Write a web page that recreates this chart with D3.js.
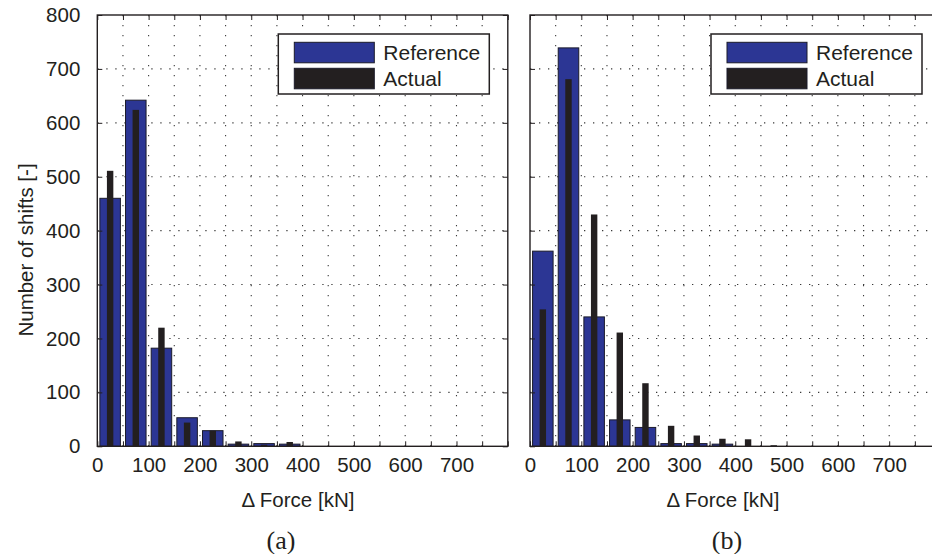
<!DOCTYPE html>
<html>
<head>
<meta charset="utf-8">
<script src="https://cdn.jsdelivr.net/npm/d3@7"></script>
<style>
  html, body { margin: 0; padding: 0; background: #fff; }
  svg { display: block; }
  text { font-family: "Liberation Sans", Arial, Helvetica, sans-serif; fill: #231f20; }
</style>
</head>
<body>
<svg id="chart" width="932" height="554"></svg>
<script>
// Histogram bins of force change (kN), 50 kN wide
const binCenters = [25, 75, 125, 175, 225, 275, 325, 375, 425, 475, 525, 575, 625, 675, 725, 775];

// Panel (a)
const leftReference = [460, 642, 182, 53, 29, 4, 5, 4, 0, 0, 0, 0, 0, 0, 0, 0];
const leftActual    = [511, 624, 220, 44, 29, 9, 3, 8, 0, 0, 0, 0, 0, 0, 0, 0];

// Panel (b)
const rightReference = [362, 739, 240, 49, 35, 5, 5, 4, 0, 0, 0, 0, 0, 0, 0, 0];
const rightActual    = [254, 681, 430, 211, 117, 38, 20, 14, 13, 2, 0, 0, 0, 0, 0, 0];

const xTicks = [0, 50, 100, 150, 200, 250, 300, 350, 400, 450, 500, 550, 600, 650, 700, 750, 800];
const xTickLabels = [0, 100, 200, 300, 400, 500, 600, 700];
const yTicks = [0, 100, 200, 300, 400, 500, 600, 700, 800];
const seriesNames = ["Reference", "Actual"];
const seriesColors = ["#2c3694", "#231f20"];

const svg = d3.select("#chart");
const plotTop = 15, plotBottom = 446.3, plotW = 410.5;
const binWidth = 50;

const panels = [
  { x0: 97.3, ref: leftReference,  act: leftActual,  tag: "(a)", tagX: 281, titleX: 298, yLabels: true },
  { x0: 530,  ref: rightReference, act: rightActual, tag: "(b)", tagX: 727, titleX: 723, yLabels: false }
];

panels.forEach(p => {
  const x = d3.scaleLinear().domain([0, 800]).range([p.x0, p.x0 + plotW]);
  const y = d3.scaleLinear().domain([0, 800]).range([plotBottom, plotTop]);
  const g = svg.append("g");

  // dotted grid
  const grid = g.append("g").attr("stroke", "#3a3a3a").attr("stroke-width", 1.1).attr("fill", "none");
  grid.selectAll("line.v").data(xTicks.filter(d => d > 0 && d < 800)).join("line")
    .attr("class", "v")
    .attr("x1", d => x(d)).attr("x2", d => x(d))
    .attr("y1", plotBottom).attr("y2", plotTop)
    .attr("stroke-dasharray", "1.3,8.7");
  grid.selectAll("line.h").data(yTicks.filter(d => d > 0 && d < 800)).join("line")
    .attr("class", "h")
    .attr("y1", d => y(d)).attr("y2", d => y(d))
    .attr("x1", x(0)).attr("x2", x(800))
    .attr("stroke-dasharray", "1.3,7.7");

  // Reference bars (wide) then Actual bars (narrow) on top
  const wideW = x(binWidth * 0.8) - x(0);
  const narrowW = x(binWidth * 0.25) - x(0);
  g.append("g").selectAll("rect").data(binCenters.map((c, i) => ({ c, v: p.ref[i] })).filter(d => d.v > 0)).join("rect")
    .attr("x", d => x(d.c) - wideW / 2)
    .attr("width", wideW)
    .attr("y", d => y(d.v))
    .attr("height", d => y(0) - y(d.v))
    .attr("fill", seriesColors[0])
    .attr("stroke", "#1b1b2a")
    .attr("stroke-width", 1);
  g.append("g").selectAll("rect").data(binCenters.map((c, i) => ({ c, v: p.act[i] })).filter(d => d.v > 0)).join("rect")
    .attr("x", d => x(d.c) - narrowW / 2)
    .attr("width", narrowW)
    .attr("y", d => y(d.v))
    .attr("height", d => y(0) - y(d.v))
    .attr("fill", seriesColors[1]);

  // axes with inward ticks
  const axX = g.append("g").attr("transform", `translate(0,${plotBottom})`)
    .call(d3.axisBottom(x).tickValues(xTicks).tickSize(-5).tickSizeOuter(0).tickPadding(11)
      .tickFormat(d => xTickLabels.includes(d) ? d : ""));
  const axY = g.append("g").attr("transform", `translate(${p.x0},0)`)
    .call(d3.axisLeft(y).tickValues(yTicks).tickSize(-5).tickSizeOuter(0).tickPadding(17)
      .tickFormat(d => p.yLabels ? d : ""));
  const axT = g.append("g").attr("transform", `translate(0,${plotTop})`)
    .call(d3.axisTop(x).tickValues(xTicks).tickSize(-5).tickSizeOuter(0).tickFormat(""));
  const axR = g.append("g").attr("transform", `translate(${p.x0 + plotW},0)`)
    .call(d3.axisRight(y).tickValues(yTicks).tickSize(-5).tickSizeOuter(0).tickFormat(""));
  [axX, axY, axT, axR].forEach(a => {
    a.select(".domain").remove();
    a.selectAll(".tick line").attr("stroke", "#231f20").attr("stroke-width", 1);
    a.selectAll("text").attr("font-size", 20.5).attr("fill", "#231f20");
  });

  // plot frame
  g.append("rect").attr("x", p.x0).attr("y", plotTop).attr("width", plotW).attr("height", plotBottom - plotTop)
    .attr("fill", "none").attr("stroke", "#231f20").attr("stroke-width", 1.4);

  // legend
  const lx = p.x0 + plotW - 18.5 - 211, ly = 34;
  const lg = g.append("g").attr("transform", `translate(${lx},${ly})`);
  lg.append("rect").attr("width", 211).attr("height", 60).attr("fill", "#fff")
    .attr("stroke", "#231f20").attr("stroke-width", 1.5);
  seriesNames.forEach((name, i) => {
    const sy = i === 0 ? 8.3 : 34.3;
    lg.append("rect").attr("x", 16).attr("y", sy).attr("width", 80).attr("height", 20.5)
      .attr("fill", seriesColors[i]).attr("stroke", "#1b1b2a").attr("stroke-width", 1);
    lg.append("text").attr("x", 105).attr("y", sy + 10.5).attr("dy", "0.36em")
      .attr("font-size", 21).text(name);
  });

  // axis title and panel tag
  svg.append("text").attr("x", p.titleX).attr("y", 500).attr("dy", "0.36em")
    .attr("text-anchor", "middle").attr("font-size", 20.5).text("\u0394 Force [kN]");
  svg.append("text").attr("x", p.tagX).attr("y", 540).attr("dy", "0.35em")
    .attr("text-anchor", "middle").attr("font-size", 26)
    .style("font-family", "'Liberation Serif', 'Times New Roman', serif").text(p.tag);
});

svg.append("text")
  .attr("transform", "translate(26,250) rotate(-90)")
  .attr("text-anchor", "middle").attr("dy", "0.36em")
  .attr("font-size", 20.5).text("Number of shifts [-]");
</script>
</body>
</html>
